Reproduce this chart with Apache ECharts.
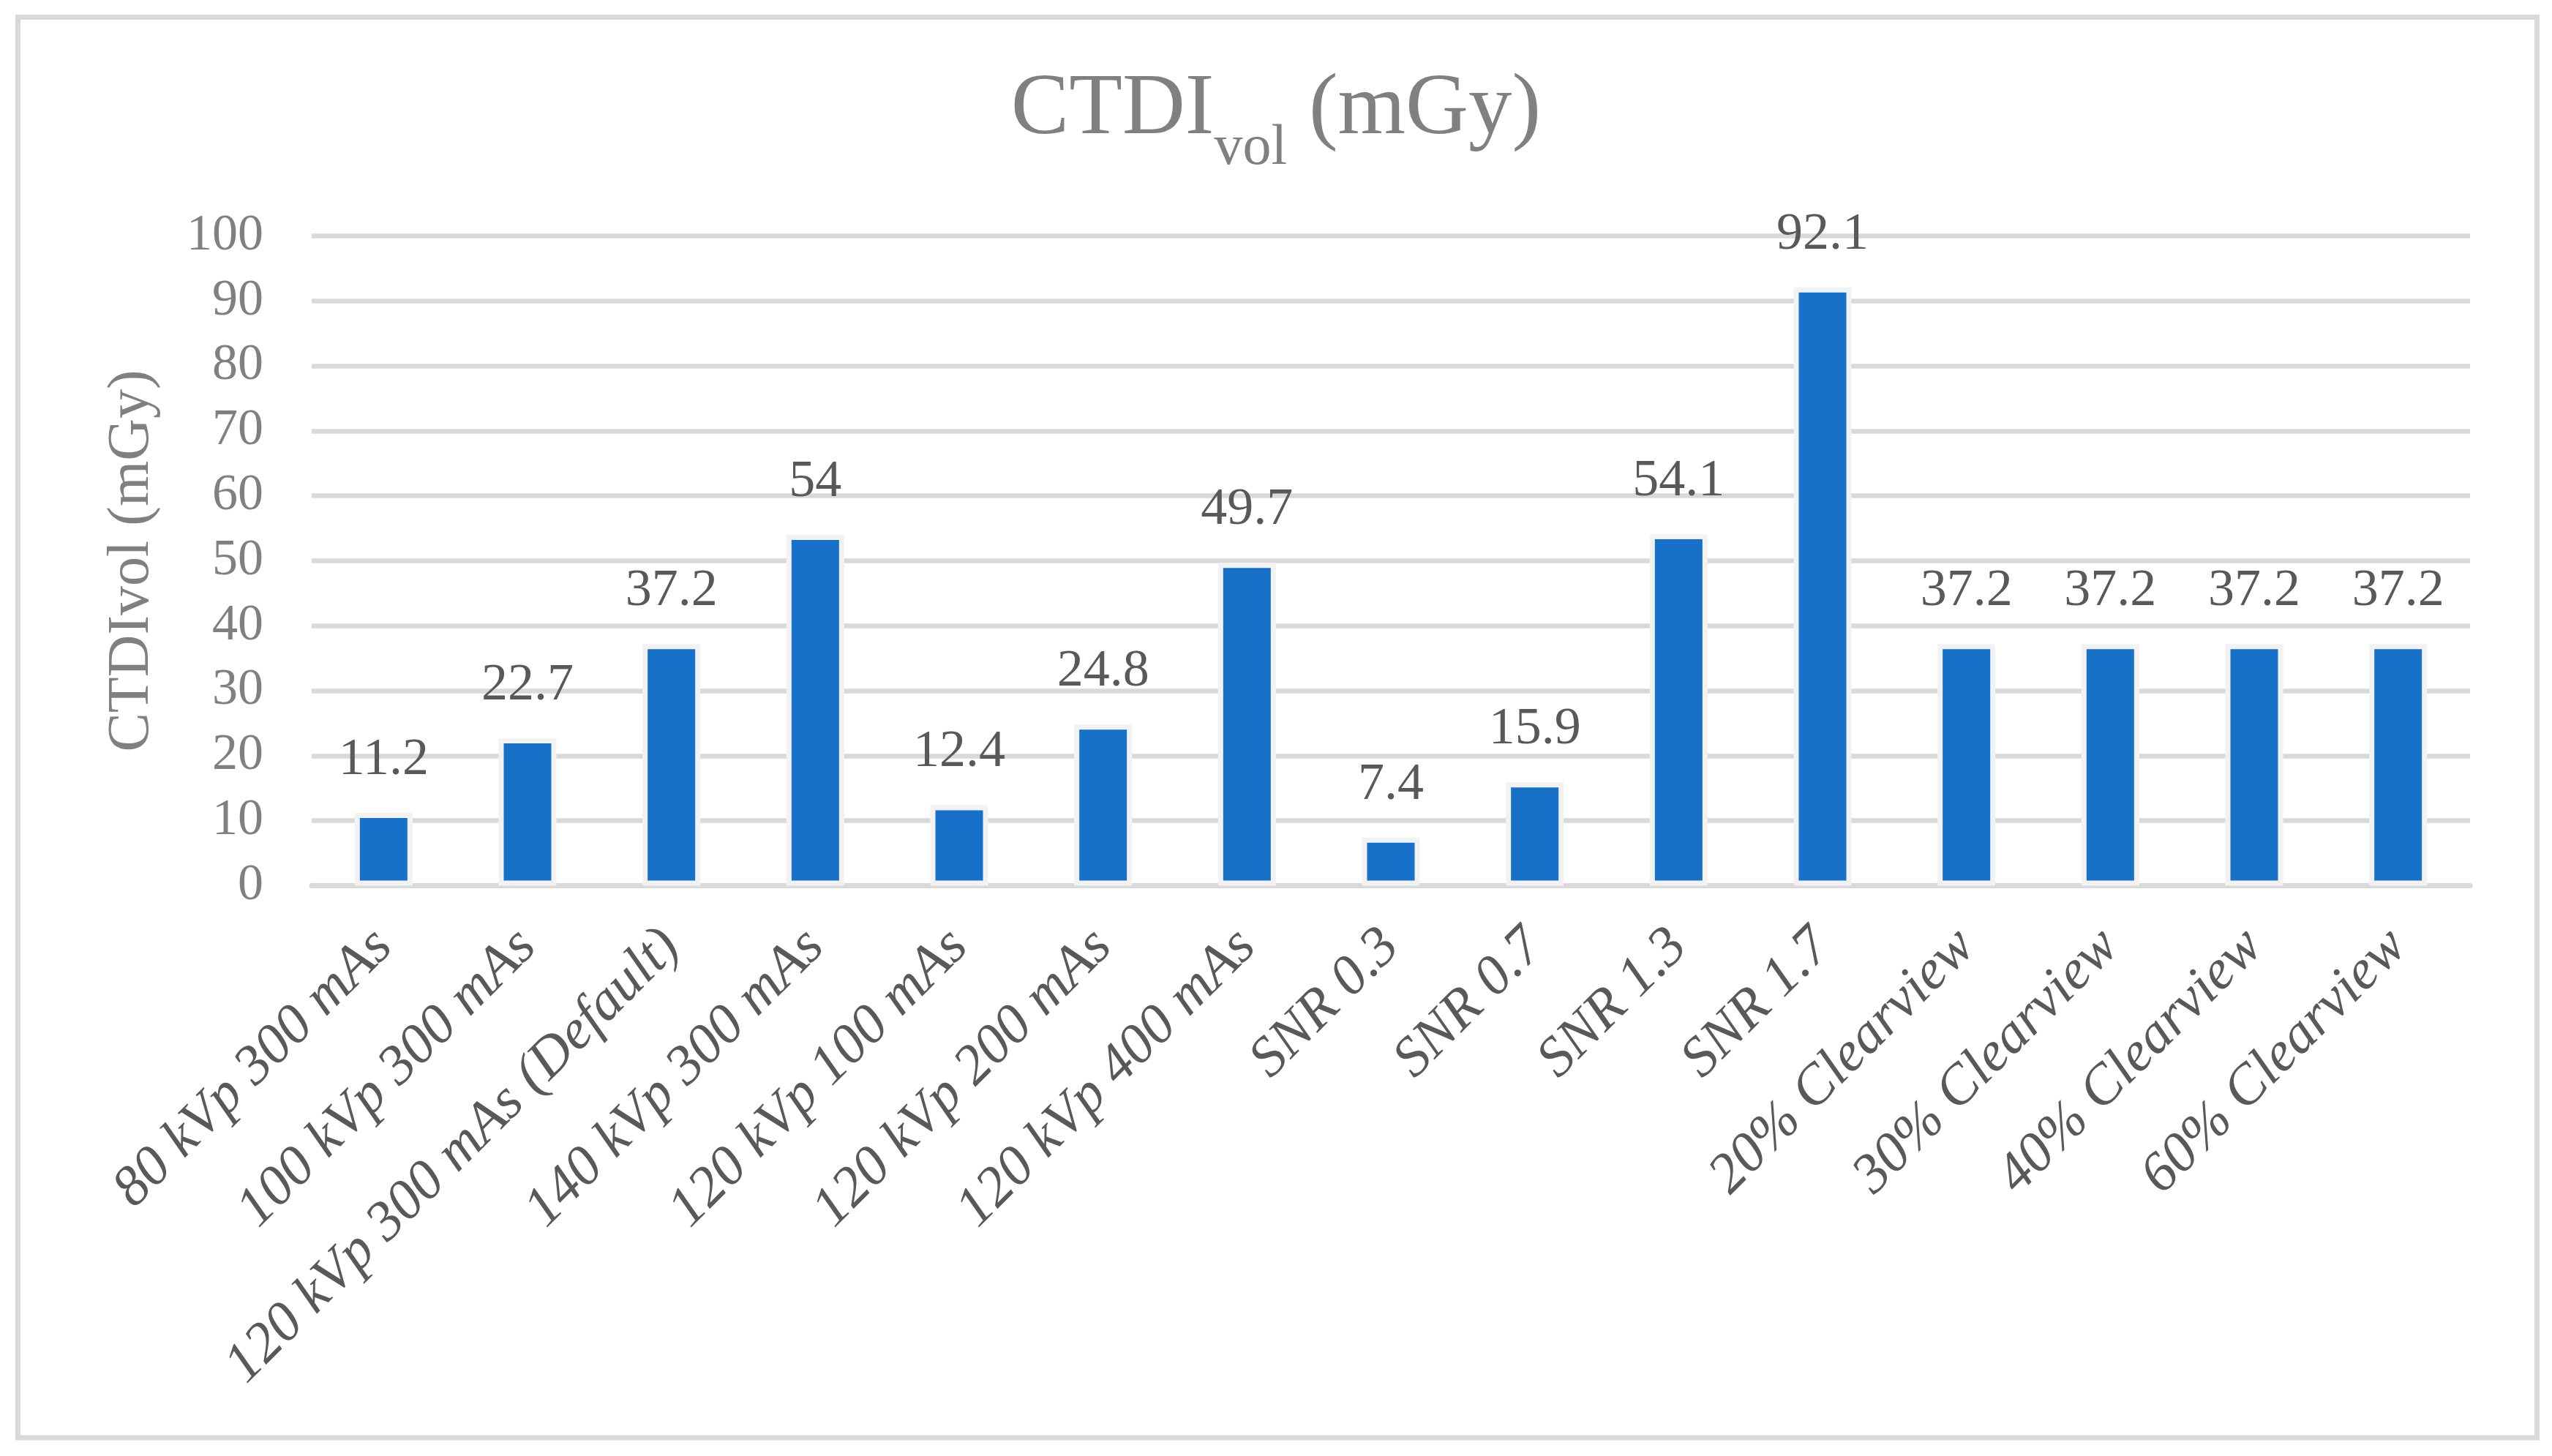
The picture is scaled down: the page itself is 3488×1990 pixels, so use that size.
<!DOCTYPE html>
<html>
<head>
<meta charset="utf-8">
<script src="https://cdn.jsdelivr.net/npm/echarts@6/dist/echarts.min.js"></script>
<style>
html,body{margin:0;padding:0;background:#fff;}
#c{width:3488px;height:1990px;}
</style>
</head>
<body>
<div id="c"></div>
<script>
const categories = ["80 kVp 300 mAs", "100 kVp 300 mAs", "120 kVp 300 mAs (Default)", "140 kVp 300 mAs", "120 kVp 100 mAs", "120 kVp 200 mAs", "120 kVp 400 mAs", "SNR 0.3", "SNR 0.7", "SNR 1.3", "SNR 1.7", "20% Clearview", "30% Clearview", "40% Clearview", "60% Clearview"];
const ctdiValues = [11.2, 22.7, 37.2, 54, 12.4, 24.8, 49.7, 7.4, 15.9, 54.1, 92.1, 37.2, 37.2, 37.2, 37.2];
const yTicks = [0, 10, 20, 30, 40, 50, 60, 70, 80, 90, 100];

const FONT = "'Liberation Serif', 'Times New Roman', serif";
const chart = echarts.init(document.getElementById('c'), null, {renderer: 'canvas'});
chart.setOption({
  backgroundColor: '#ffffff',
  animation: false,
  title: {
    text: '{a|CTDI}{b|vol}{a| (mGy)}',
    left: 'center',
    top: 86,
    textStyle: {
      fontWeight: 'normal',
      rich: {
        a: {fontFamily: FONT, fontWeight: 'normal', fontSize: 119, lineHeight: 119, color: '#808080', verticalAlign: 'top'},
        b: {fontFamily: FONT, fontWeight: 'normal', fontSize: 78, lineHeight: 78, color: '#808080', verticalAlign: 'top', padding: [74, 0, 0, 0]}
      }
    }
  },
  graphic: [{
    type: 'rect',
    shape: {x: 24.5, y: 23.5, width: 3443, height: 1941.5},
    style: {fill: 'none', stroke: '#d9d9d9', lineWidth: 7},
    silent: true
  }],
  grid: {left: 426, right: 112, top: 322.5, bottom: 779.5, containLabel: false},
  xAxis: {
    type: 'category',
    data: categories,
    axisLine: {show: true, lineStyle: {color: '#d9d9d9', width: 7}},
    axisTick: {show: false},
    axisLabel: {
      interval: 0,
      rotate: 45,
      margin: 72,
      fontFamily: FONT,
      fontStyle: 'italic',
      fontSize: 77,
      color: '#595959'
    }
  },
  yAxis: {
    type: 'value',
    min: yTicks[0],
    max: yTicks[yTicks.length - 1],
    interval: 10,
    name: 'CTDIvol (mGy)',
    nameLocation: 'middle',
    nameGap: 205,
    nameTextStyle: {fontFamily: FONT, fontSize: 80, color: '#808080'},
    axisLine: {show: false},
    axisTick: {show: false},
    axisLabel: {margin: 66, fontFamily: FONT, fontSize: 70, color: '#808080'},
    splitLine: {show: true, lineStyle: {color: '#d9d9d9', width: 6.5}}
  },
  series: [{
    type: 'bar',
    data: ctdiValues,
    barWidth: 79,
    itemStyle: {color: '#1771c8', borderColor: '#f2f2f2', borderWidth: 7},
    label: {
      show: true,
      position: 'top',
      distance: 36,
      fontFamily: FONT,
      fontSize: 72,
      color: '#595959'
    }
  }]
});
</script>
</body>
</html>
